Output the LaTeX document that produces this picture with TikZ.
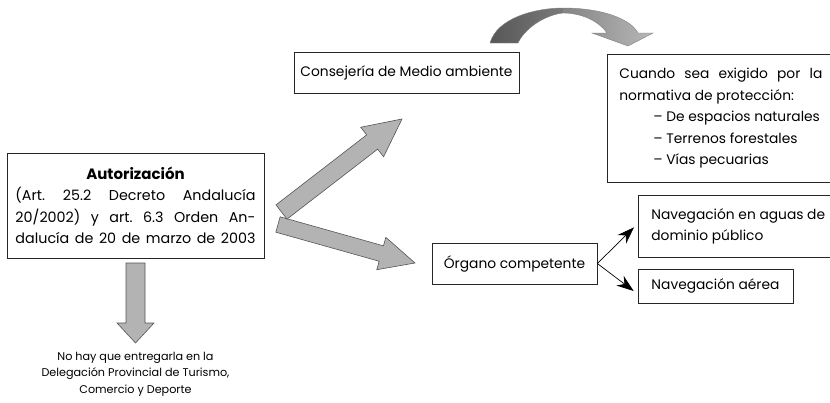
\documentclass[tikz,border=0pt]{standalone}
\usepackage{fontspec}
\setmainfont{Poppins}
\usetikzlibrary{arrows.meta,calc}
\definecolor{arrowfill}{HTML}{B3B3B3}
\definecolor{arrowline}{HTML}{555555}
\newcommand\mainfs{\fontsize{13.8}{21.5}\selectfont}
\newcommand\autfs{\fontsize{14.3}{21.5}\selectfont}
\newcommand\notefs{\fontsize{11.2}{16.5}\selectfont}
\frenchspacing
\tikzset{
 box/.style={draw=black!85, line width=0.7pt, inner sep=0pt, font=\mainfs},
 bigarrow/.style={fill=arrowfill, draw=arrowline, line width=0.6pt, line join=miter},
 thinarrow/.style={draw=black, line width=0.7pt, -{Stealth[length=17pt,width=12pt]}},
 curvedge/.style={draw=black!50, line width=0.4pt},
}
\begin{document}
\begin{tikzpicture}[x=1pt,y=-1pt]
\useasboundingbox (0,0) rectangle (830,402);
\clip (0,0) rectangle (830,402);

% boxes
\node[box, font=\autfs, minimum width=257pt, minimum height=105pt, inner xsep=8.5pt] (aut) at (135.5,205.5)
 {\parbox{240pt}{\frenchspacing\centering{\fontsize{15}{21.5}\selectfont\bfseries Autorización}\\
  \makebox[240pt][s]{(Art. 25.2 Decreto Andalucía}\\
  \makebox[240pt][s]{20/2002) y art. 6.3 Orden An-}\\
  \makebox[240pt][s]{dalucía de 20 de marzo de 2003}}};

\node[box, minimum width=225pt, minimum height=41pt] (cons) at (406.5,72.5) {Consejería de Medio ambiente};

\node[box, anchor=north west, minimum height=128pt, inner xsep=12pt] (cuan) at (607,54)
 {\parbox{215pt}{\raggedright
  \makebox[203pt][s]{Cuando sea exigido por la}\\
  normativa de protección:\\
  \hspace*{34pt}– De espacios naturales\\
  \hspace*{34pt}– Terrenos forestales\\
  \hspace*{34pt}– Vías pecuarias}};

\node[box, minimum width=165pt, minimum height=41pt] (org) at (514.5,263.5) {Órgano competente};

\node[box, anchor=north west, minimum height=62pt, inner xsep=13pt] (agu) at (638,195)
 {\parbox{200pt}{\raggedright Navegación en aguas de\\dominio público}};

\node[box, minimum width=155pt, minimum height=34pt] (aer) at (715.5,286) {Navegación aérea};

\node[font=\notefs, align=center, inner sep=0pt] (note) at (135.5,374)
 {No hay que entregarla en la\\Delegación Provincial de Turismo,\\Comercio y Deporte};

% big block arrows
\draw[bigarrow] (280.16,216.8) -- (383.47,245.83) -- (385.85,237.36) -- (415,263)
 -- (376.77,269.7) -- (379.15,261.23) -- (275.84,232.2) -- cycle;
\draw[bigarrow] (276.0,204.87) -- (366.65,134.9) -- (360.72,127.23) -- (402,119)
 -- (383.58,156.83) -- (377.65,149.16) -- (287.0,219.13) -- cycle;
\draw[bigarrow] (126,263) -- (145,263) -- (145,323) -- (154,323) -- (135.5,343)
 -- (117,323) -- (126,323) -- cycle;

% curved arrow
\shade[left color=black!66, right color=black!52]
 (490,43) .. controls (497,18) and (535,8) .. (563,8) -- (563,13)
 .. controls (545,15) and (525,28) .. (518,43) -- cycle;
\shade[left color=black!48, right color=black!28]
 (563,8) .. controls (600,8) and (630,18) .. (638,33) -- (653,33) -- (628,46)
 -- (592,33) -- (607,33) .. controls (598,20) and (580,13) .. (563,13) -- cycle;
\draw[curvedge]
 (490,43) .. controls (497,18) and (535,8) .. (563,8)
 .. controls (600,8) and (630,18) .. (638,33) -- (653,33) -- (628,46)
 -- (592,33) -- (607,33) .. controls (598,20) and (580,13) .. (563,13)
 .. controls (545,15) and (525,28) .. (518,43) -- cycle;

% thin arrows
\draw[thinarrow] (org.east) -- ($(agu.west)+(-4,1)$);
\draw[thinarrow] (org.east) -- ($(aer.west)+(-4,5)$);
\end{tikzpicture}
\end{document}
